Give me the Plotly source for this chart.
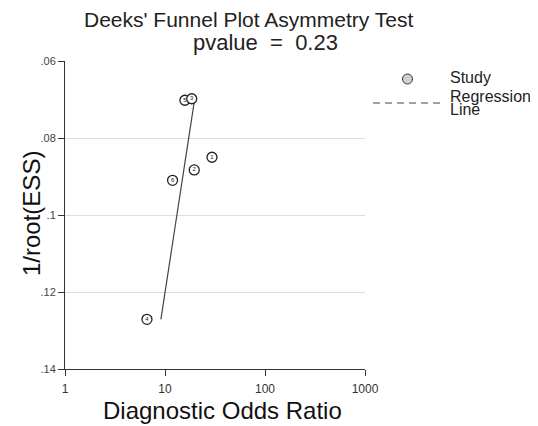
import plotly.graph_objects as go

# ---- data ----
studies = ["1", "2", "4", "6", "5", "3"]
dor = [29.5, 19.6, 6.6, 11.9, 15.8, 18.5]
inv_root_ess = [0.0850, 0.0883, 0.1271, 0.0910, 0.0702, 0.0698]

reg_dor = [9.1, 19.9]
reg_y = [0.1271, 0.0695]

x_tickvals = [1, 10, 100, 1000]
x_ticktext = ["1", "10", "100", "1000"]
y_tickvals = [0.06, 0.08, 0.10, 0.12, 0.14]
y_ticktext = [".06", ".08", ".1", ".12", ".14"]

title_text = "Deeks' Funnel Plot Asymmetry Test"
pvalue_text = "pvalue  =  0.23"
x_title = "Diagnostic Odds Ratio"
y_title = "1/root(ESS)"

FONT = "Arial, Liberation Sans, sans-serif"

# page has an 8px body margin; plot area in page pixels: x 65..365, y 61..369
BODY = 8
L, R, T, B = 65, 365, 61, 369
W, H = 538 - BODY, 426 - BODY

fig = go.Figure()

# regression line
fig.add_trace(go.Scatter(
    x=reg_dor, y=reg_y, mode="lines",
    line=dict(color="#444", width=1.2),
    showlegend=False, hoverinfo="skip",
))

# study points (one trace per study so later ones sit on top)
for s, xv, yv in zip(studies, dor, inv_root_ess):
    fig.add_trace(go.Scatter(
        x=[xv], y=[yv], mode="markers+text",
        text=[s], textposition="middle center",
        textfont=dict(size=6, color="#222", family=FONT),
        marker=dict(symbol="circle", size=10, color="white",
                    line=dict(color="#222", width=1.3)),
        showlegend=False,
    ))

fig.update_layout(
    width=W, height=H,
    paper_bgcolor="white", plot_bgcolor="white",
    margin=dict(l=L - BODY, r=W - (R - BODY), t=T - BODY, b=H - (B - BODY)),
    font=dict(family=FONT, color="#222"),
    showlegend=False,
)

fig.update_xaxes(
    type="log", range=[0, 3],
    tickvals=x_tickvals, ticktext=x_ticktext,
    showline=True, linecolor="#333", linewidth=1,
    ticks="outside", ticklen=6, tickcolor="#333",
    ticklabelstandoff=3,
    showgrid=False, zeroline=False,
    tickfont=dict(size=12, color="#333"),
)

fig.update_yaxes(
    range=[0.14, 0.06],
    tickvals=y_tickvals, ticktext=y_ticktext,
    showline=True, linecolor="#333", linewidth=1,
    ticks="outside", ticklen=6, tickcolor="#333",
    showgrid=True, gridcolor="#dddddd", gridwidth=1,
    zeroline=False,
    tickfont=dict(size=11, color="#444"),
)


def px_x(p):
    return (p - L) / (R - L)


def px_y(p):
    return 1 - (p - T) / (B - T)


# titles
fig.add_annotation(text=title_text, xref="paper", yref="paper",
                   x=px_x(248), y=px_y(20), showarrow=False,
                   font=dict(size=21, color="#222"),
                   xanchor="center", yanchor="middle")
fig.add_annotation(text=pvalue_text, xref="paper", yref="paper",
                   x=px_x(265), y=px_y(43), showarrow=False,
                   font=dict(size=22, color="#222"),
                   xanchor="center", yanchor="middle")

# axis titles
fig.add_annotation(text=x_title, xref="paper", yref="paper",
                   x=px_x(222), y=px_y(410), showarrow=False,
                   font=dict(size=24, color="#111"),
                   xanchor="center", yanchor="middle")
fig.add_annotation(text=y_title, xref="paper", yref="paper",
                   x=px_x(31), y=px_y(214), showarrow=False,
                   textangle=-90,
                   font=dict(size=24, color="#111"),
                   xanchor="center", yanchor="middle")

# manual legend
fig.add_shape(type="circle", xref="paper", yref="paper",
              x0=px_x(402.5), x1=px_x(412.5), y0=px_y(84), y1=px_y(74),
              fillcolor="#d0d0d0", line=dict(color="#333", width=1))
fig.add_annotation(text="Study", xref="paper", yref="paper",
                   x=px_x(448), y=px_y(77), showarrow=False,
                   xanchor="left", yanchor="middle",
                   font=dict(size=16, color="#222"))
fig.add_shape(type="line", xref="paper", yref="paper",
              x0=px_x(373), x1=px_x(440), y0=px_y(103), y1=px_y(103),
              line=dict(color="#444", width=1, dash="7px,5px"))
fig.add_annotation(text="Regression", xref="paper", yref="paper",
                   x=px_x(448), y=px_y(96), showarrow=False,
                   xanchor="left", yanchor="middle",
                   font=dict(size=16, color="#222"))
fig.add_annotation(text="Line", xref="paper", yref="paper",
                   x=px_x(448), y=px_y(109), showarrow=False,
                   xanchor="left", yanchor="middle",
                   font=dict(size=16, color="#222"))

fig.write_html("out.html")
